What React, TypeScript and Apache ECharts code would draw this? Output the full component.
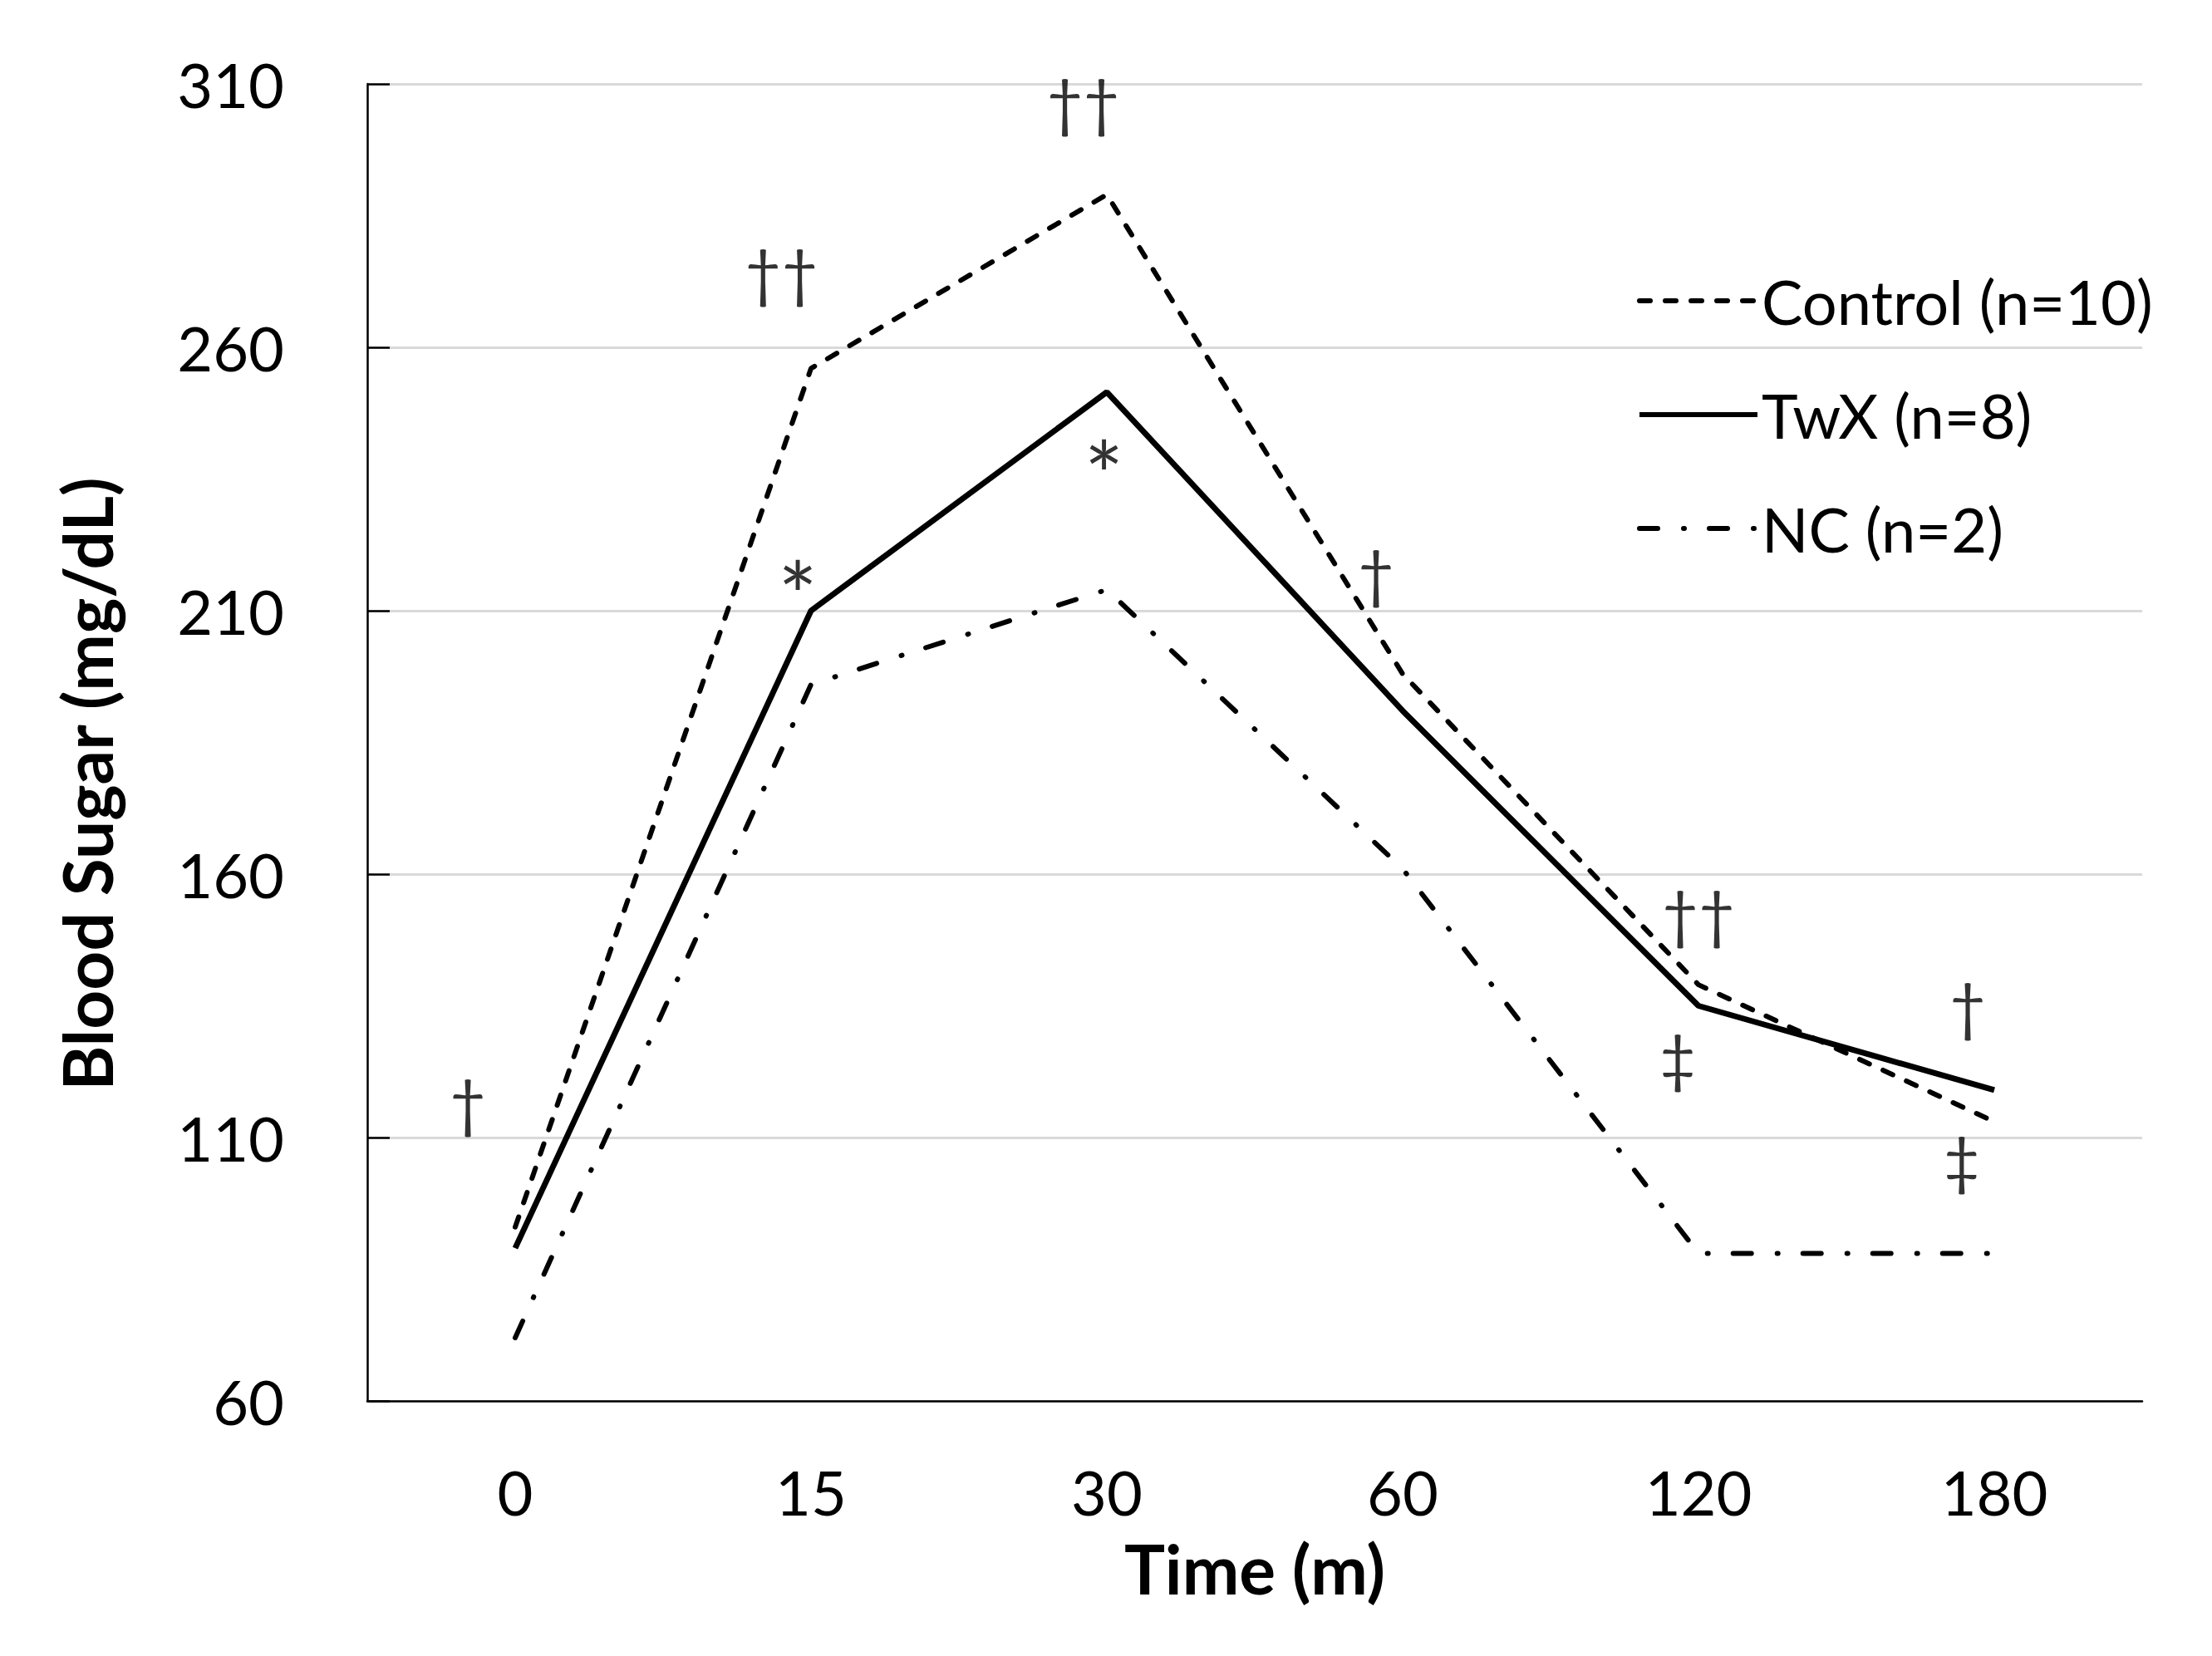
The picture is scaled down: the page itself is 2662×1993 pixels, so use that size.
import { useEffect, useRef } from "react";
import * as echarts from "echarts";

const categories = ["0", "15", "30", "60", "120", "180"];
const controlValues = [93, 256, 289, 198, 139, 113];
const twxValues = [89, 210, 251.5, 191, 135, 119];
const ncValues = [72, 196, 214, 161, 88, 88];

const seriesNames = ["Control (n=10)", "TwX (n=8)", "NC (n=2)"];

// significance marks, x in category units (0 = first category)
const markTexts = ["†", "††", "*", "††", "*", "†", "††", "‡", "†", "‡"];
const markX = [-0.16, 0.9, 0.955, 1.92, 1.99, 2.91, 4.0, 3.93, 4.91, 4.89];
const markY = [116.8, 274.5, 213, 306.8, 236, 217.3, 152.7, 125.3, 135.2, 106];

const FONT = "Lato";

export default function App() {
  const chartRef = useRef<HTMLDivElement>(null);

  useEffect(() => {
    if (!chartRef.current) return;
    const chart = echarts.init(chartRef.current, undefined, { renderer: "svg" });

    const option: echarts.EChartsOption = {
      animation: false,
      backgroundColor: "#ffffff",
      textStyle: { fontFamily: FONT, color: "#000" },
      grid: { left: 442, right: 84, top: 101, bottom: 307 },
      legend: {
        data: seriesNames,
        orient: "vertical",
        left: 1965,
        top: 312,
        itemWidth: 142,
        itemHeight: 20,
        itemGap: 47,
        itemStyle: { opacity: 0 },
        lineStyle: { width: 6 },
        textStyle: { fontFamily: FONT, fontSize: 74, color: "#000", lineHeight: 90 },
      },
      xAxis: [
        {
          type: "category",
          data: categories,
          boundaryGap: true,
          name: "Time (m)",
          nameLocation: "middle",
          nameGap: 160,
          nameTextStyle: { fontFamily: FONT, fontSize: 82, fontWeight: "bold", color: "#000" },
          axisLine: { lineStyle: { color: "#000", width: 2.5 } },
          axisTick: { inside: true, length: 27, lineStyle: { color: "#000", width: 2.5 } },
          axisLabel: { fontFamily: FONT, fontSize: 74, color: "#000", margin: 72 },
          splitLine: { show: false },
        },
        {
          type: "value",
          min: -0.5,
          max: 5.5,
          show: false,
        },
      ],
      yAxis: {
        type: "value",
        min: 60,
        max: 310,
        interval: 50,
        name: "Blood Sugar (mg/dL)",
        nameLocation: "middle",
        nameGap: 297,
        nameTextStyle: {
          fontFamily: FONT,
          fontSize: 82,
          fontWeight: "bold",
          color: "#000",
          padding: [0, 100, 0, 0],
        },
        axisLine: { show: true, onZero: false, lineStyle: { color: "#000", width: 2.5 } },
        axisTick: { show: true, inside: true, length: 27, lineStyle: { color: "#000", width: 2.5 } },
        axisLabel: { fontFamily: FONT, fontSize: 74, color: "#000", margin: 100 },
        splitLine: { lineStyle: { color: "#d9d9d9", width: 3 } },
      },
      series: [
        {
          name: seriesNames[0],
          type: "line",
          data: controlValues,
          symbol: "none",
          lineStyle: { color: "#000", width: 6, type: [13, 18], cap: "round" },
          itemStyle: { color: "#000" },
          z: 3,
        },
        {
          name: seriesNames[1],
          type: "line",
          data: twxValues,
          symbol: "none",
          lineStyle: { color: "#000", width: 7, type: "solid" },
          itemStyle: { color: "#000" },
          z: 4,
        },
        {
          name: seriesNames[2],
          type: "line",
          data: ncValues,
          symbol: "none",
          lineStyle: { color: "#000", width: 6, type: [22, 31, 1, 30], cap: "round" },
          itemStyle: { color: "#000" },
          z: 3,
        },
        {
          name: "marks",
          type: "scatter",
          xAxisIndex: 1,
          silent: true,
          symbol: "circle",
          symbolSize: 1,
          itemStyle: { color: "rgba(0,0,0,0)" },
          data: markTexts.map((t, i) => ({
            value: [markX[i], markY[i]],
            name: t,
            label: t === "*" ? { fontSize: 112 } : undefined,
          })),
          label: {
            show: true,
            position: "inside",
            formatter: (p: any) => p.name,
            fontFamily: FONT,
            fontSize: 76,
            color: "#000",
            align: "center",
            verticalAlign: "middle",
          },
          z: 5,
        },
      ],
    };

    chart.setOption(option);

    return () => {
      chart.dispose();
    };
  }, []);

  return (
    <div
      ref={chartRef}
      style={{ position: "fixed", left: 0, top: 0, width: 2662, height: 1993 }}
    />
  );
}
